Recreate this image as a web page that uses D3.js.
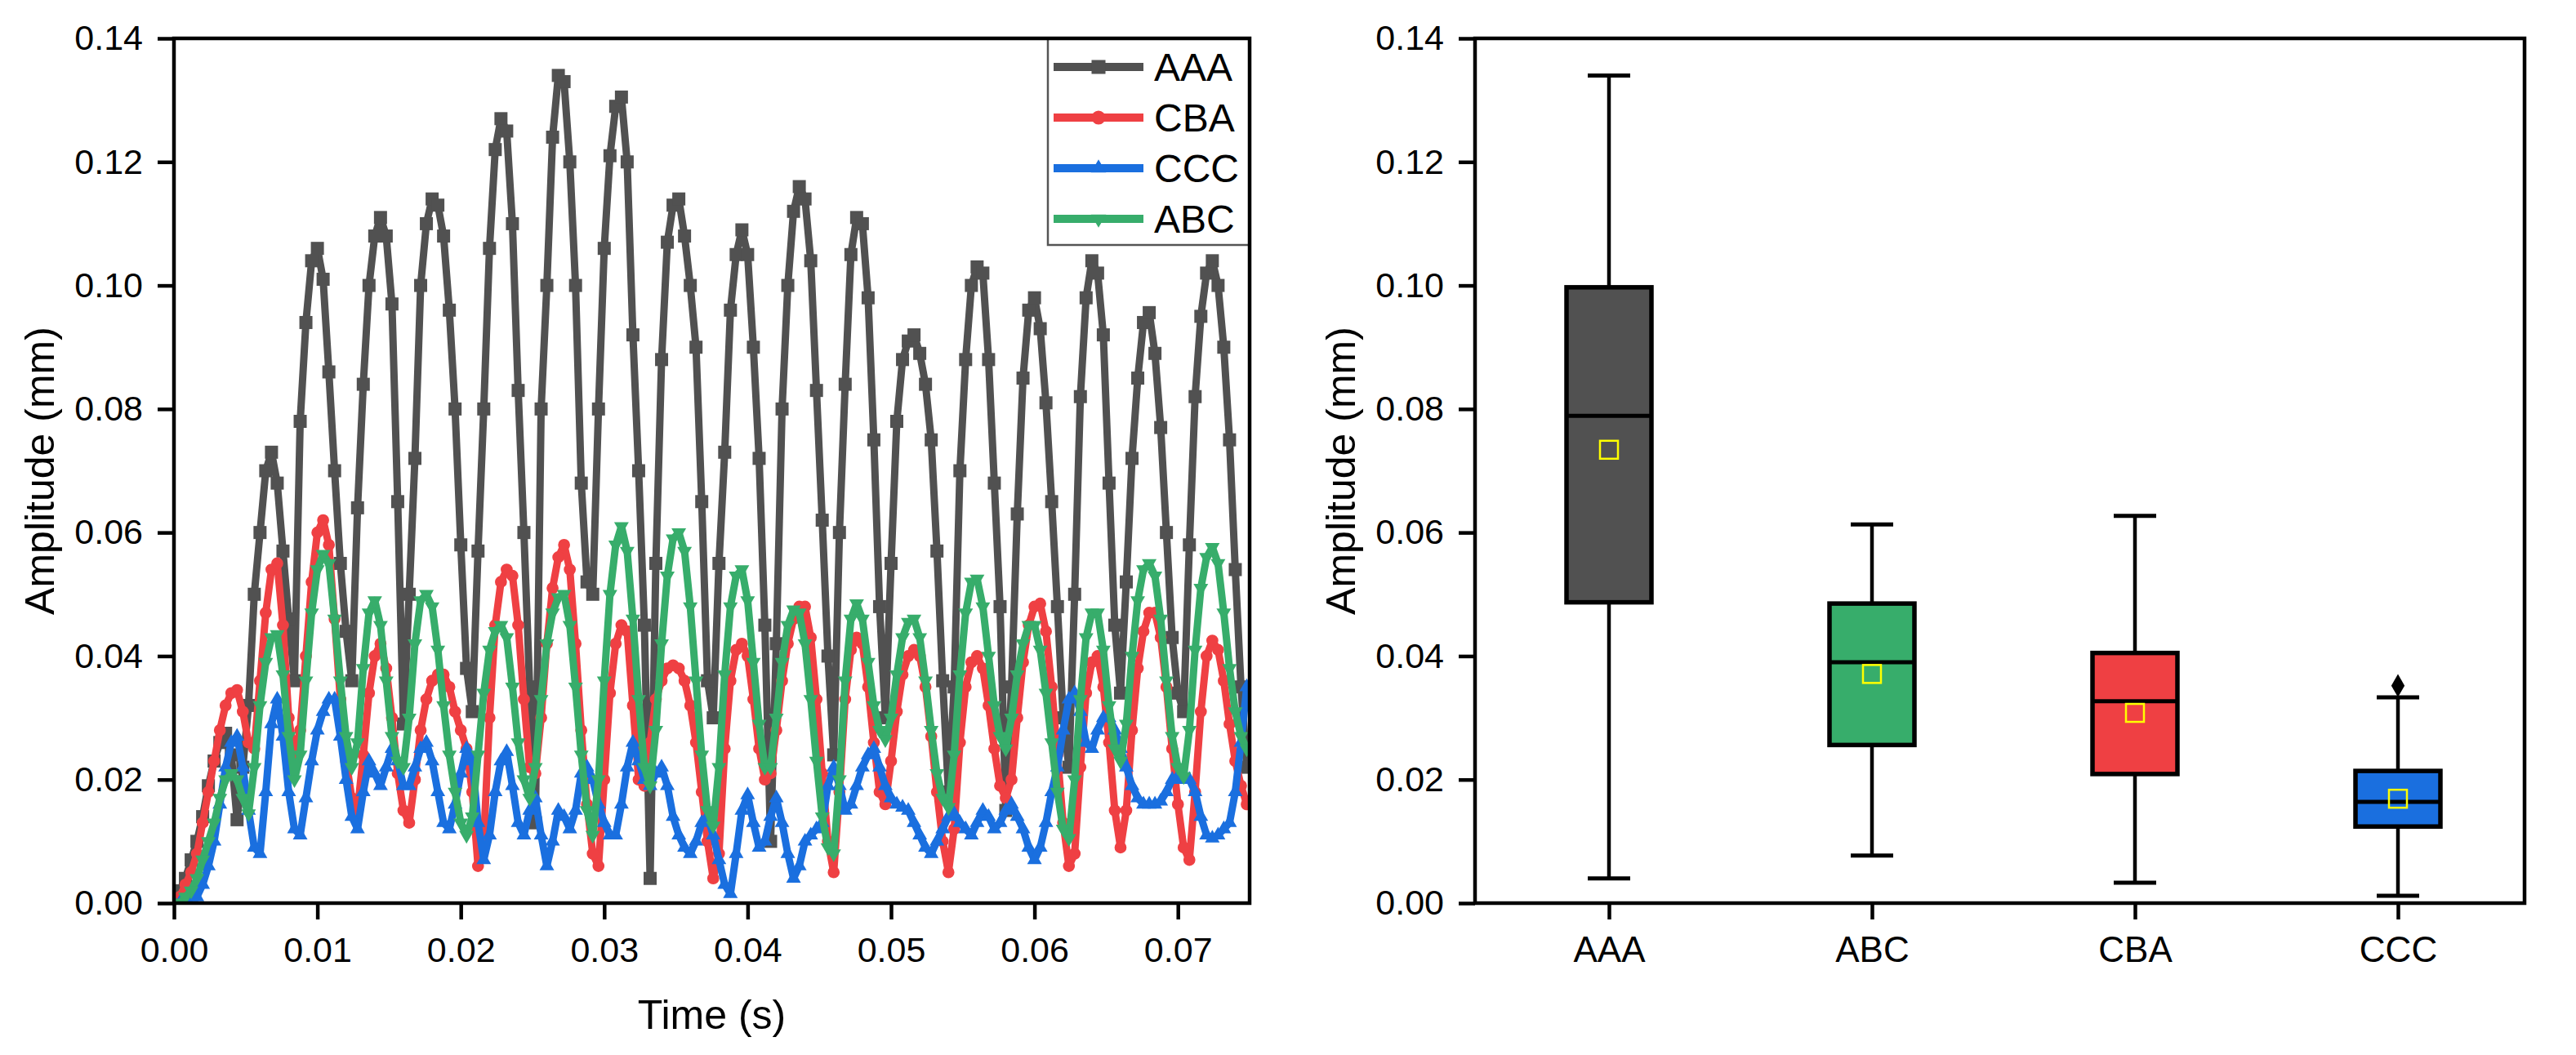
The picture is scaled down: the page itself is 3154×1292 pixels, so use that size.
<!DOCTYPE html>
<html><head><meta charset="utf-8">
<script src="https://cdn.jsdelivr.net/npm/d3@7"></script>
<style>html,body{margin:0;padding:0;background:#fff;} svg{display:block;}</style>
</head><body><svg id="chart" width="3154" height="1292"></svg>
<script>
// ---------------- DATA ----------------
const sampleStep = 0.0004; // s between samples
const AAA = [0.000,0.002,0.004,0.007,0.010,0.014,0.019,0.023,0.026,0.0275,
0.024,0.0135,0.022,0.032,0.050,0.060,0.070,0.073,0.068,0.057,
0.046,0.036,0.078,0.094,0.104,0.106,0.101,0.086,0.070,0.055,
0.044,0.036,0.064,0.084,0.100,0.108,0.111,0.108,0.097,0.065,
0.029,0.050,0.072,0.100,0.110,0.114,0.113,0.108,0.096,0.080,
0.058,0.038,0.031,0.057,0.080,0.106,0.122,0.127,0.125,0.110,
0.083,0.060,0.035,0.013,0.080,0.100,0.124,0.134,0.133,0.120,
0.100,0.068,0.052,0.050,0.080,0.106,0.121,0.129,0.1305,0.120,
0.092,0.070,0.045,0.004,0.055,0.088,0.107,0.113,0.114,0.108,
0.100,0.090,0.065,0.036,0.030,0.055,0.073,0.096,0.105,0.109,
0.105,0.090,0.072,0.045,0.010,0.042,0.080,0.100,0.112,0.116,
0.114,0.104,0.083,0.062,0.040,0.024,0.060,0.084,0.105,0.111,
0.110,0.098,0.075,0.048,0.030,0.055,0.078,0.088,0.091,0.092,
0.089,0.084,0.075,0.057,0.036,0.018,0.035,0.070,0.088,0.100,
0.103,0.102,0.088,0.068,0.048,0.015,0.035,0.063,0.085,0.096,
0.098,0.093,0.081,0.065,0.048,0.030,0.022,0.050,0.082,0.098,
0.104,0.102,0.092,0.068,0.045,0.034,0.052,0.072,0.085,0.094,
0.0956,0.089,0.077,0.060,0.043,0.034,0.031,0.058,0.082,0.095,
0.102,0.104,0.100,0.090,0.075,0.054,0.035,0.022];
const CBA = [0.000,0.001,0.003,0.005,0.008,0.013,0.018,0.023,0.028,0.032,
0.034,0.0345,0.031,0.026,0.025,0.036,0.047,0.054,0.055,0.045,
0.030,0.024,0.028,0.040,0.052,0.060,0.062,0.058,0.046,0.033,
0.023,0.017,0.015,0.024,0.034,0.040,0.042,0.038,0.030,0.021,
0.015,0.013,0.020,0.028,0.033,0.036,0.037,0.037,0.035,0.031,
0.028,0.025,0.018,0.006,0.010,0.030,0.045,0.052,0.054,0.053,
0.045,0.033,0.022,0.021,0.030,0.042,0.051,0.056,0.058,0.054,
0.042,0.028,0.016,0.008,0.006,0.020,0.034,0.042,0.045,0.044,
0.032,0.020,0.019,0.026,0.033,0.036,0.038,0.0385,0.038,0.036,
0.032,0.026,0.018,0.010,0.004,0.008,0.025,0.036,0.041,0.042,
0.040,0.033,0.025,0.020,0.021,0.028,0.036,0.042,0.046,0.048,
0.048,0.043,0.033,0.021,0.010,0.005,0.018,0.033,0.041,0.043,
0.042,0.035,0.026,0.018,0.016,0.023,0.031,0.037,0.040,0.041,
0.040,0.035,0.027,0.018,0.010,0.005,0.012,0.026,0.035,0.039,
0.040,0.038,0.032,0.025,0.019,0.017,0.020,0.030,0.039,0.045,
0.048,0.0485,0.044,0.035,0.024,0.013,0.006,0.008,0.022,0.034,
0.039,0.040,0.035,0.026,0.015,0.009,0.015,0.028,0.038,0.044,
0.047,0.047,0.043,0.035,0.025,0.016,0.009,0.007,0.018,0.031,
0.040,0.0425,0.041,0.036,0.029,0.023,0.019,0.016];
const CCC = [0.000,0.000,0.000,0.001,0.001,0.003,0.006,0.010,0.016,0.022,
0.026,0.027,0.022,0.015,0.009,0.008,0.018,0.029,0.033,0.027,
0.018,0.012,0.011,0.017,0.023,0.028,0.031,0.033,0.033,0.027,
0.020,0.014,0.012,0.018,0.023,0.021,0.019,0.022,0.025,0.023,
0.019,0.019,0.022,0.025,0.026,0.023,0.018,0.013,0.012,0.016,
0.021,0.025,0.023,0.013,0.007,0.011,0.018,0.023,0.0245,0.019,
0.013,0.011,0.015,0.017,0.011,0.006,0.010,0.015,0.014,0.012,
0.015,0.021,0.022,0.020,0.016,0.013,0.011,0.011,0.016,0.022,
0.026,0.023,0.020,0.019,0.021,0.022,0.019,0.014,0.011,0.009,
0.008,0.010,0.013,0.014,0.011,0.007,0.003,0.0015,0.008,0.015,
0.0175,0.013,0.009,0.010,0.014,0.017,0.013,0.008,0.004,0.006,
0.010,0.011,0.012,0.013,0.019,0.022,0.019,0.015,0.016,0.019,
0.022,0.024,0.025,0.022,0.019,0.017,0.016,0.0155,0.015,0.013,
0.011,0.009,0.008,0.010,0.012,0.014,0.0145,0.013,0.012,0.011,
0.013,0.015,0.014,0.012,0.013,0.015,0.016,0.014,0.012,0.009,
0.007,0.009,0.013,0.018,0.022,0.028,0.033,0.034,0.031,0.026,
0.025,0.028,0.030,0.030,0.028,0.025,0.022,0.019,0.017,0.016,
0.016,0.016,0.0165,0.018,0.020,0.0205,0.020,0.020,0.018,0.014,
0.011,0.0105,0.011,0.012,0.013,0.018,0.026,0.035];
const ABC = [0.000,0.000,0.001,0.002,0.004,0.007,0.010,0.013,0.017,0.020,
0.021,0.020,0.017,0.0145,0.022,0.032,0.039,0.043,0.0435,0.037,
0.027,0.020,0.024,0.036,0.047,0.054,0.0565,0.055,0.046,0.036,
0.027,0.022,0.026,0.038,0.047,0.049,0.045,0.036,0.027,0.023,
0.022,0.030,0.042,0.049,0.050,0.048,0.041,0.032,0.024,0.018,
0.013,0.011,0.014,0.024,0.034,0.041,0.044,0.045,0.043,0.035,
0.026,0.020,0.017,0.022,0.033,0.042,0.047,0.0495,0.050,0.045,
0.035,0.024,0.015,0.011,0.020,0.036,0.050,0.058,0.061,0.057,
0.046,0.033,0.022,0.019,0.028,0.042,0.053,0.059,0.060,0.057,
0.048,0.036,0.024,0.015,0.0125,0.022,0.037,0.048,0.053,0.054,
0.049,0.039,0.029,0.022,0.022,0.030,0.039,0.045,0.0475,0.047,
0.042,0.033,0.023,0.014,0.009,0.008,0.020,0.036,0.046,0.0485,
0.046,0.039,0.032,0.028,0.0265,0.030,0.037,0.043,0.0455,0.046,
0.043,0.036,0.028,0.021,0.017,0.0155,0.024,0.037,0.047,0.052,
0.0525,0.048,0.040,0.032,0.027,0.025,0.030,0.037,0.042,0.045,
0.045,0.041,0.034,0.026,0.018,0.012,0.0105,0.020,0.033,0.043,
0.047,0.047,0.041,0.032,0.025,0.023,0.029,0.040,0.049,0.054,
0.055,0.053,0.046,0.036,0.027,0.022,0.0205,0.028,0.041,0.051,
0.056,0.0576,0.055,0.047,0.038,0.031,0.027,0.025];

const seriesNames = ["AAA","CBA","CCC","ABC"];
const timeTicks = [0,0.01,0.02,0.03,0.04,0.05,0.06,0.07];
const ampTicks = [0,0.02,0.04,0.06,0.08,0.10,0.12,0.14];

const boxCategories = ["AAA","ABC","CBA","CCC"];
const boxMin    = [0.0040,0.0077,0.0033,0.0012];
const boxQ1     = [0.0487,0.0256,0.0209,0.0124];
const boxMedian = [0.0789,0.0390,0.0327,0.0164];
const boxQ3     = [0.0997,0.0485,0.0405,0.0214];
const boxMax    = [0.1340,0.0613,0.0627,0.0333];
const boxMean   = [0.0734,0.0371,0.0308,0.0169];
const boxOutliers = [[],[],[],[0.0352]];

// ---------------- STYLE ----------------
const FONT = '"Liberation Sans", Arial, Helvetica, sans-serif';
const colorOf = {AAA:"#515151", CBA:"#ef4043", CCC:"#1a6fdf", ABC:"#37ad6b"};
const seriesData = {AAA, CBA, CCC, ABC};
const time = AAA.map((_, i) => i * sampleStep);

const svg = d3.select("#chart");
svg.append("rect").attr("width",3154).attr("height",1292).attr("fill","#fff");

const L = {x0:213, x1:1530, y0:1106, y1:47};
const R = {x0:1806, x1:3091, y0:1106, y1:47};

const xL = d3.scaleLinear().domain([0,0.075]).range([L.x0,L.x1]);
const yL = d3.scaleLinear().domain([0,0.14]).range([L.y0,L.y1]);
const yR = d3.scaleLinear().domain([0,0.14]).range([R.y0,R.y1]);
const xR = d3.scalePoint().domain(boxCategories).range([1970,2936]);

function styleAxis(g, fs){
  g.select(".domain").remove();
  g.selectAll(".tick line").attr("stroke","#000").attr("stroke-width",4.5);
  g.selectAll(".tick text").attr("fill","#000").style("font-size",fs+"px").style("font-family",FONT);
}

// ---- left plot ----
svg.append("defs").append("clipPath").attr("id","clipL")
  .append("rect").attr("x",L.x0).attr("y",L.y1).attr("width",L.x1-L.x0).attr("height",L.y0-L.y1);

const plotL = svg.append("g").attr("clip-path","url(#clipL)");
const symbolFor = {
  AAA: d3.symbol(d3.symbolSquare, 256)(),
  CBA: d3.symbol(d3.symbolCircle, 170)(),
  CCC: d3.symbol(d3.symbolTriangle, 140)(),
  ABC: d3.symbol(d3.symbolTriangle, 140)()
};
const symbolForLegend = {
  AAA: d3.symbol(d3.symbolSquare, 290)(),
  CBA: d3.symbol(d3.symbolCircle, 230)(),
  CCC: d3.symbol(d3.symbolTriangle, 150)(),
  ABC: d3.symbol(d3.symbolTriangle, 150)()
};
const line = d3.line().x((d,i)=>xL(time[i])).y(d=>yL(d));

seriesNames.forEach(name=>{
  const vals = seriesData[name];
  const g = plotL.append("g");
  g.append("path").attr("d", line(vals)).attr("fill","none")
    .attr("stroke", colorOf[name]).attr("stroke-width",9)
    .attr("stroke-linejoin","round").attr("stroke-linecap","round");
  g.selectAll("path.m").data(vals).enter().append("path").attr("class","m")
    .attr("d", symbolFor[name])
    .attr("transform",(d,i)=>`translate(${xL(time[i])},${yL(d)})` + (name==="ABC"?" rotate(180)":""))
    .attr("fill", colorOf[name]);
});

const gxL = svg.append("g").attr("transform",`translate(0,${L.y0})`)
  .call(d3.axisBottom(xL).tickValues(timeTicks).tickFormat(d3.format(".2f")).tickSize(20).tickPadding(21));
styleAxis(gxL, 43);
const gyL = svg.append("g").attr("transform",`translate(${L.x0},0)`)
  .call(d3.axisLeft(yL).tickValues(ampTicks).tickFormat(d3.format(".2f")).tickSize(20).tickPadding(18));
styleAxis(gyL, 43);

// legend
const lg = svg.append("g");
lg.append("rect").attr("x",1283).attr("y",L.y1).attr("width",L.x1-1283).attr("height",300-L.y1)
  .attr("fill","#fff").attr("stroke","#555").attr("stroke-width",2.5);
seriesNames.forEach((name,k)=>{
  const cy = 82 + k*62;
  lg.append("line").attr("x1",1290).attr("x2",1400).attr("y1",cy).attr("y2",cy)
    .attr("stroke",colorOf[name]).attr("stroke-width",10);
  lg.append("path").attr("d",symbolForLegend[name])
    .attr("transform",`translate(1345,${cy})`+(name==="ABC"?" rotate(180)":""))
    .attr("fill",colorOf[name]);
  lg.append("text").attr("x",1413).attr("y",cy+17).text(name)
    .style("font-family",FONT).style("font-size","48px").attr("fill","#000");
});

svg.append("rect").attr("x",L.x0).attr("y",L.y1).attr("width",L.x1-L.x0).attr("height",L.y0-L.y1)
  .attr("fill","none").attr("stroke","#000").attr("stroke-width",4.5);

svg.append("text").attr("x",(L.x0+L.x1)/2).attr("y",1260).attr("text-anchor","middle")
  .style("font-family",FONT).style("font-size","50px").text("Time (s)");
svg.append("text").attr("transform",`translate(66,${(L.y0+L.y1)/2}) rotate(-90)`).attr("text-anchor","middle")
  .style("font-family",FONT).style("font-size","50px").text("Amplitude (mm)");

// ---- right plot (box chart) ----
const boxW = 104, capW = 52;
const gb = svg.append("g");
boxCategories.forEach((c,i)=>{
  const cx = xR(c);
  const col = colorOf[c];
  gb.append("line").attr("x1",cx).attr("x2",cx).attr("y1",yR(boxMax[i])).attr("y2",yR(boxQ3[i]))
    .attr("stroke","#000").attr("stroke-width",4.5);
  gb.append("line").attr("x1",cx).attr("x2",cx).attr("y1",yR(boxQ1[i])).attr("y2",yR(boxMin[i]))
    .attr("stroke","#000").attr("stroke-width",4.5);
  gb.append("line").attr("x1",cx-capW/2).attr("x2",cx+capW/2).attr("y1",yR(boxMax[i])).attr("y2",yR(boxMax[i]))
    .attr("stroke","#000").attr("stroke-width",5);
  gb.append("line").attr("x1",cx-capW/2).attr("x2",cx+capW/2).attr("y1",yR(boxMin[i])).attr("y2",yR(boxMin[i]))
    .attr("stroke","#000").attr("stroke-width",5);
  gb.append("rect").attr("x",cx-boxW/2).attr("y",yR(boxQ3[i])).attr("width",boxW)
    .attr("height",yR(boxQ1[i])-yR(boxQ3[i])).attr("fill",col).attr("stroke","#000").attr("stroke-width",5.5);
  gb.append("line").attr("x1",cx-boxW/2).attr("x2",cx+boxW/2).attr("y1",yR(boxMedian[i])).attr("y2",yR(boxMedian[i]))
    .attr("stroke","#000").attr("stroke-width",5);
  gb.append("rect").attr("x",cx-11).attr("y",yR(boxMean[i])-11).attr("width",22).attr("height",22)
    .attr("fill","none").attr("stroke","#ffff00").attr("stroke-width",2.5);
  boxOutliers[i].forEach(o=>{
    gb.append("path").attr("d",d3.symbol(d3.symbolDiamond,230)()).attr("transform",`translate(${cx},${yR(o)})`)
      .attr("fill","#000");
  });
});

const gxR = svg.append("g").attr("transform",`translate(0,${R.y0})`)
  .call(d3.axisBottom(xR).tickSize(20).tickPadding(21));
styleAxis(gxR, 44);
const gyR = svg.append("g").attr("transform",`translate(${R.x0},0)`)
  .call(d3.axisLeft(yR).tickValues(ampTicks).tickFormat(d3.format(".2f")).tickSize(20).tickPadding(18));
styleAxis(gyR, 43);
svg.append("rect").attr("x",R.x0).attr("y",R.y1).attr("width",R.x1-R.x0).attr("height",R.y0-R.y1)
  .attr("fill","none").attr("stroke","#000").attr("stroke-width",4.5);
svg.append("text").attr("transform",`translate(1659,${(R.y0+R.y1)/2}) rotate(-90)`).attr("text-anchor","middle")
  .style("font-family",FONT).style("font-size","50px").text("Amplitude (mm)");
</script>
</body></html>
